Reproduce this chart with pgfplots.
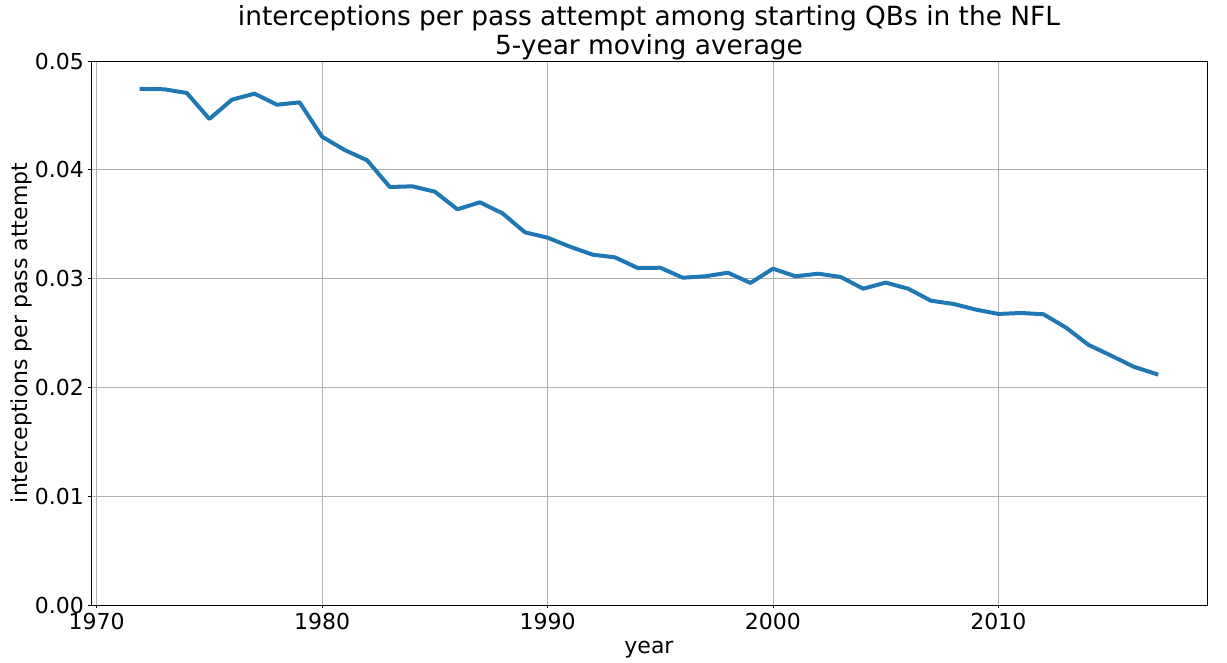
\documentclass[border=0pt]{standalone}
\usepackage{fontspec}
\setmainfont{DejaVu Sans}
\usepackage{pgfplots}
\pgfplotsset{compat=1.18}
\definecolor{mplblue}{HTML}{1F77B4}
\definecolor{gridgray}{HTML}{B0B0B0}
\begin{document}
\begin{tikzpicture}
\begin{axis}[
  scale only axis, width=1116pt, height=544pt,
  xmin=1969.75, xmax=2019.25, ymin=0, ymax=0.05,
  xtick={1970,1980,1990,2000,2010},
  ytick={0,0.01,0.02,0.03,0.04,0.05},
  scaled y ticks=false,
  grid=major, major grid style={gridgray, line width=0.8pt},
  axis line style={black, line width=0.8pt},
  tick style={black, line width=0.8pt},
  tick align=outside, major tick length=3.5pt, tick pos=left,
  /pgf/number format/assume math mode=true,
  ticklabel style={font=\fontsize{22}{26.4}\selectfont},
  xticklabel style={/pgf/number format/1000 sep={}, inner sep=0pt, anchor=north, yshift=-4.5pt},
  yticklabel style={/pgf/number format/fixed, /pgf/number format/fixed zerofill, /pgf/number format/precision=2, inner sep=0pt, anchor=east, xshift=-3.5pt},
  title={interceptions per pass attempt among starting QBs in the NFL\\5-year moving average},
  title style={font=\fontsize{26.4}{29.3}\selectfont, align=center, inner sep=0pt, anchor=south, at={(axis description cs:0.5,1)}, yshift=-5.5pt},
  xlabel={year},
  xlabel style={font=\fontsize{22}{26.4}\selectfont, inner sep=0pt, anchor=base, at={(axis description cs:0.5,-0.0895)}},
  ylabel={interceptions per pass attempt},
  ylabel style={font=\fontsize{22}{26.4}\selectfont, inner sep=0pt, anchor=base, at={(axis description cs:-0.0573,0.5)}},
]
\addplot[mplblue, line width=4pt, line join=round, line cap=rect] coordinates {
(1972,0.04743) (1973,0.0474) (1974,0.04706) (1975,0.04467) (1976,0.04644)
(1977,0.0470) (1978,0.04598) (1979,0.0462) (1980,0.04304) (1981,0.04182)
(1982,0.04087) (1983,0.03842) (1984,0.03848) (1985,0.03799) (1986,0.03637)
(1987,0.03701) (1988,0.0360) (1989,0.03425) (1990,0.03376) (1991,0.03293)
(1992,0.0322) (1993,0.03195) (1994,0.03097) (1995,0.0310) (1996,0.03008)
(1997,0.03021) (1998,0.03054) (1999,0.0296) (2000,0.03091) (2001,0.03021)
(2002,0.03045) (2003,0.03015) (2004,0.02907) (2005,0.02963) (2006,0.02907)
(2007,0.02797) (2008,0.02767) (2009,0.02715) (2010,0.02675) (2011,0.02684)
(2012,0.02672) (2013,0.02549) (2014,0.0239) (2015,0.02292) (2016,0.0219)
(2017,0.02123)
};
\end{axis}
\pgfresetboundingbox
\useasboundingbox ([shift={(-91pt,-58pt)}]current axis.south west) rectangle ++(1227pt,663pt);
\end{tikzpicture}
\end{document}
